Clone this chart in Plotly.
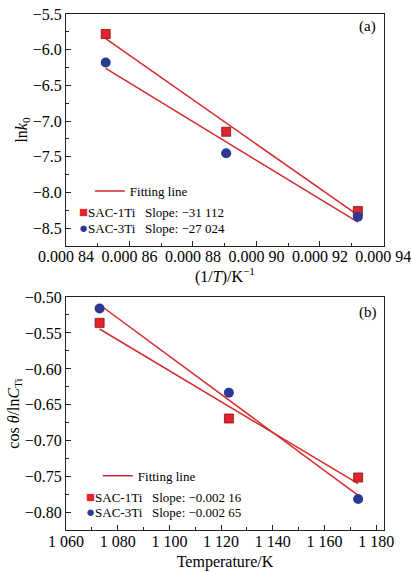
import numpy as np
import plotly.graph_objects as go
from plotly.subplots import make_subplots

# ---- data ----
temps_K = [1073, 1123, 1173]
inv_T = [1.0 / t for t in temps_K]

lnk0_1Ti = [-8.26, -7.15, -5.78]
lnk0_3Ti = [-8.34, -7.45, -6.18]

cos_1Ti = [-0.536, -0.669, -0.751]
cos_3Ti = [-0.516, -0.633, -0.781]

top_xtick_vals = [0.00084, 0.00086, 0.00088, 0.00090, 0.00092, 0.00094]
top_xtick_text = ["0.000 84", "0.000 86", "0.000 88", "0.000 90", "0.000 92", "0.000 94"]
bot_xtick_vals = [1060, 1080, 1100, 1120, 1140, 1160, 1180]
bot_xtick_text = ["1 060", "1 080", "1 100", "1 120", "1 140", "1 160", "1 180"]

NB = "\u00a0"
legend_a = [f"SAC-1Ti{NB*3}Slope: \u221231 112", f"SAC-3Ti{NB*3}Slope: \u221227 024"]
legend_b = [f"SAC-1Ti{NB*3}Slope: \u22120.002 16", f"SAC-3Ti{NB*3}Slope: \u22120.002 65"]

RED = "#e4232a"
LINE_RED = "#d42a2f"
BLUE = "#2b3894"
FONT = "Liberation Serif"

fig = make_subplots(rows=2, cols=1)


def fit_line(x, y):
    x = np.asarray(x)
    p = np.polyfit(x, y, 1)
    xs = np.array([x.min(), x.max()])
    return xs, np.polyval(p, xs)


# ---- panel (a) ----
for i, y in enumerate([lnk0_1Ti, lnk0_3Ti]):
    xs, ys = fit_line(inv_T, y)
    fig.add_trace(go.Scatter(x=xs, y=ys, mode="lines", line=dict(color=LINE_RED, width=1.5),
                             name="Fitting line", showlegend=(i == 0), legend="legend"), row=1, col=1)
fig.add_trace(go.Scatter(x=inv_T, y=lnk0_1Ti, mode="markers", showlegend=False,
                         marker=dict(symbol="square", size=9, color=RED, line=dict(color="#7a1515", width=0.8))),
              row=1, col=1)
fig.add_trace(go.Scatter(x=inv_T, y=lnk0_3Ti, mode="markers", showlegend=False,
                         marker=dict(symbol="circle", size=10, color=BLUE, line=dict(width=0))),
              row=1, col=1)

# ---- panel (b) ----
for i, y in enumerate([cos_1Ti, cos_3Ti]):
    xs, ys = fit_line(temps_K, y)
    fig.add_trace(go.Scatter(x=xs, y=ys, mode="lines", line=dict(color=LINE_RED, width=1.5),
                             name="Fitting line", showlegend=(i == 0), legend="legend2"), row=2, col=1)
fig.add_trace(go.Scatter(x=temps_K, y=cos_1Ti, mode="markers", showlegend=False,
                         marker=dict(symbol="square", size=9, color=RED, line=dict(color="#7a1515", width=0.8))),
              row=2, col=1)
fig.add_trace(go.Scatter(x=temps_K, y=cos_3Ti, mode="markers", showlegend=False,
                         marker=dict(symbol="circle", size=10, color=BLUE, line=dict(width=0))),
              row=2, col=1)

axis_common = dict(showgrid=False, zeroline=False, showline=True, linecolor="#222", linewidth=1,
                   mirror=True, ticks="inside", ticklen=5, tickwidth=1, tickcolor="#222", automargin=False,
                   ticklabeloverflow="allow",
                   tickfont=dict(family=FONT, size=16, color="black"))

fig.update_xaxes(**axis_common)
fig.update_yaxes(**axis_common)

fig.update_xaxes(row=1, col=1, domain=[0, 1], range=[0.00084, 0.0009402], tickmode="array",
                 tickvals=top_xtick_vals, ticktext=top_xtick_text, ticklabelstandoff=-4,
                 minor=dict(ticks="inside", ticklen=3, tick0=0.00084, dtick=0.00001, tickcolor="#222"),
                 title=dict(text="(1/<i>T</i>)/K<sup>\u22121</sup>", font=dict(family=FONT, size=16, color="black"),
                            standoff=0))
fig.update_yaxes(row=1, col=1, domain=[0.5504, 1.0], range=[-8.75, -5.5], tick0=-5.5, dtick=0.5,
                 tickformat=".1f",
                 minor=dict(ticks="inside", ticklen=3, tick0=-5.5, dtick=0.25, tickcolor="#222"),
                 title=dict(text="ln<i>k</i><sub>0</sub>", font=dict(family=FONT, size=16, color="black"),
                            standoff=1))
fig.update_xaxes(row=2, col=1, domain=[0, 1], range=[1060, 1183], tickmode="array",
                 tickvals=bot_xtick_vals, ticktext=bot_xtick_text, ticklabelstandoff=-3,
                 minor=dict(ticks="inside", ticklen=3, tick0=1060, dtick=10, tickcolor="#222"),
                 title=dict(text="Temperature/K", font=dict(family=FONT, size=16, color="black"), standoff=6))
fig.update_yaxes(row=2, col=1, domain=[0.0, 0.4516], range=[-0.824, -0.50], tick0=-0.5, dtick=0.05,
                 tickformat=".2f",
                 minor=dict(ticks="inside", ticklen=3, tick0=-0.5, dtick=0.025, tickcolor="#222"),
                 title=dict(text="cos <i>θ</i>/ln<i>C</i><sub>Ti</sub>",
                            font=dict(family=FONT, size=16, color="black"), standoff=1))

legend_style = dict(bgcolor="rgba(0,0,0,0)", borderwidth=0, font=dict(family=FONT, size=13, color="black"),
                    xanchor="left", yanchor="top", itemwidth=30)

fig.update_layout(
    width=411, height=572,
    margin=dict(l=66, r=27, t=14, b=42, autoexpand=False),
    paper_bgcolor="white", plot_bgcolor="white",
    font=dict(family=FONT, size=13, color="black"),
    legend=dict(x=0.075, y=0.686, **legend_style),
    legend2=dict(x=0.1, y=0.134, **legend_style),
)

# marker legend entries and panel labels
GL = "font-size:15px"
ann = []
for txt, col, glyph, yp in [(legend_a[0], RED, "\u25a0", 0.616), (legend_a[1], BLUE, "\u25cf", 0.585)]:
    ann.append(dict(text=f"<span style='color:{col};{GL}'>{glyph}</span>{txt}", x=0.034, y=yp,
                    xref="paper", yref="paper", xanchor="left", yanchor="middle", showarrow=False,
                    font=dict(family=FONT, size=13, color="black")))
for txt, col, glyph, yp in [(legend_b[0], RED, "\u25a0", 0.0635), (legend_b[1], BLUE, "\u25cf", 0.034)]:
    ann.append(dict(text=f"<span style='color:{col};{GL}'>{glyph}</span>{txt}", x=0.058, y=yp,
                    xref="paper", yref="paper", xanchor="left", yanchor="middle", showarrow=False,
                    font=dict(family=FONT, size=13, color="black")))
ann.append(dict(text="(a)", x=0.98, y=0.945, xref="x domain", yref="y domain", xanchor="right",
                yanchor="middle", showarrow=False, font=dict(family=FONT, size=15, color="black")))
ann.append(dict(text="(b)", x=0.985, y=0.935, xref="x2 domain", yref="y2 domain", xanchor="right",
                yanchor="middle", showarrow=False, font=dict(family=FONT, size=15, color="black")))
fig.update_layout(annotations=ann)

# remove the default 8px page margin so the figure fills the window exactly
fig.write_html("out.html", config={"displayModeBar": False},
               post_script="document.body.style.margin='0';document.body.style.overflow='hidden';")
